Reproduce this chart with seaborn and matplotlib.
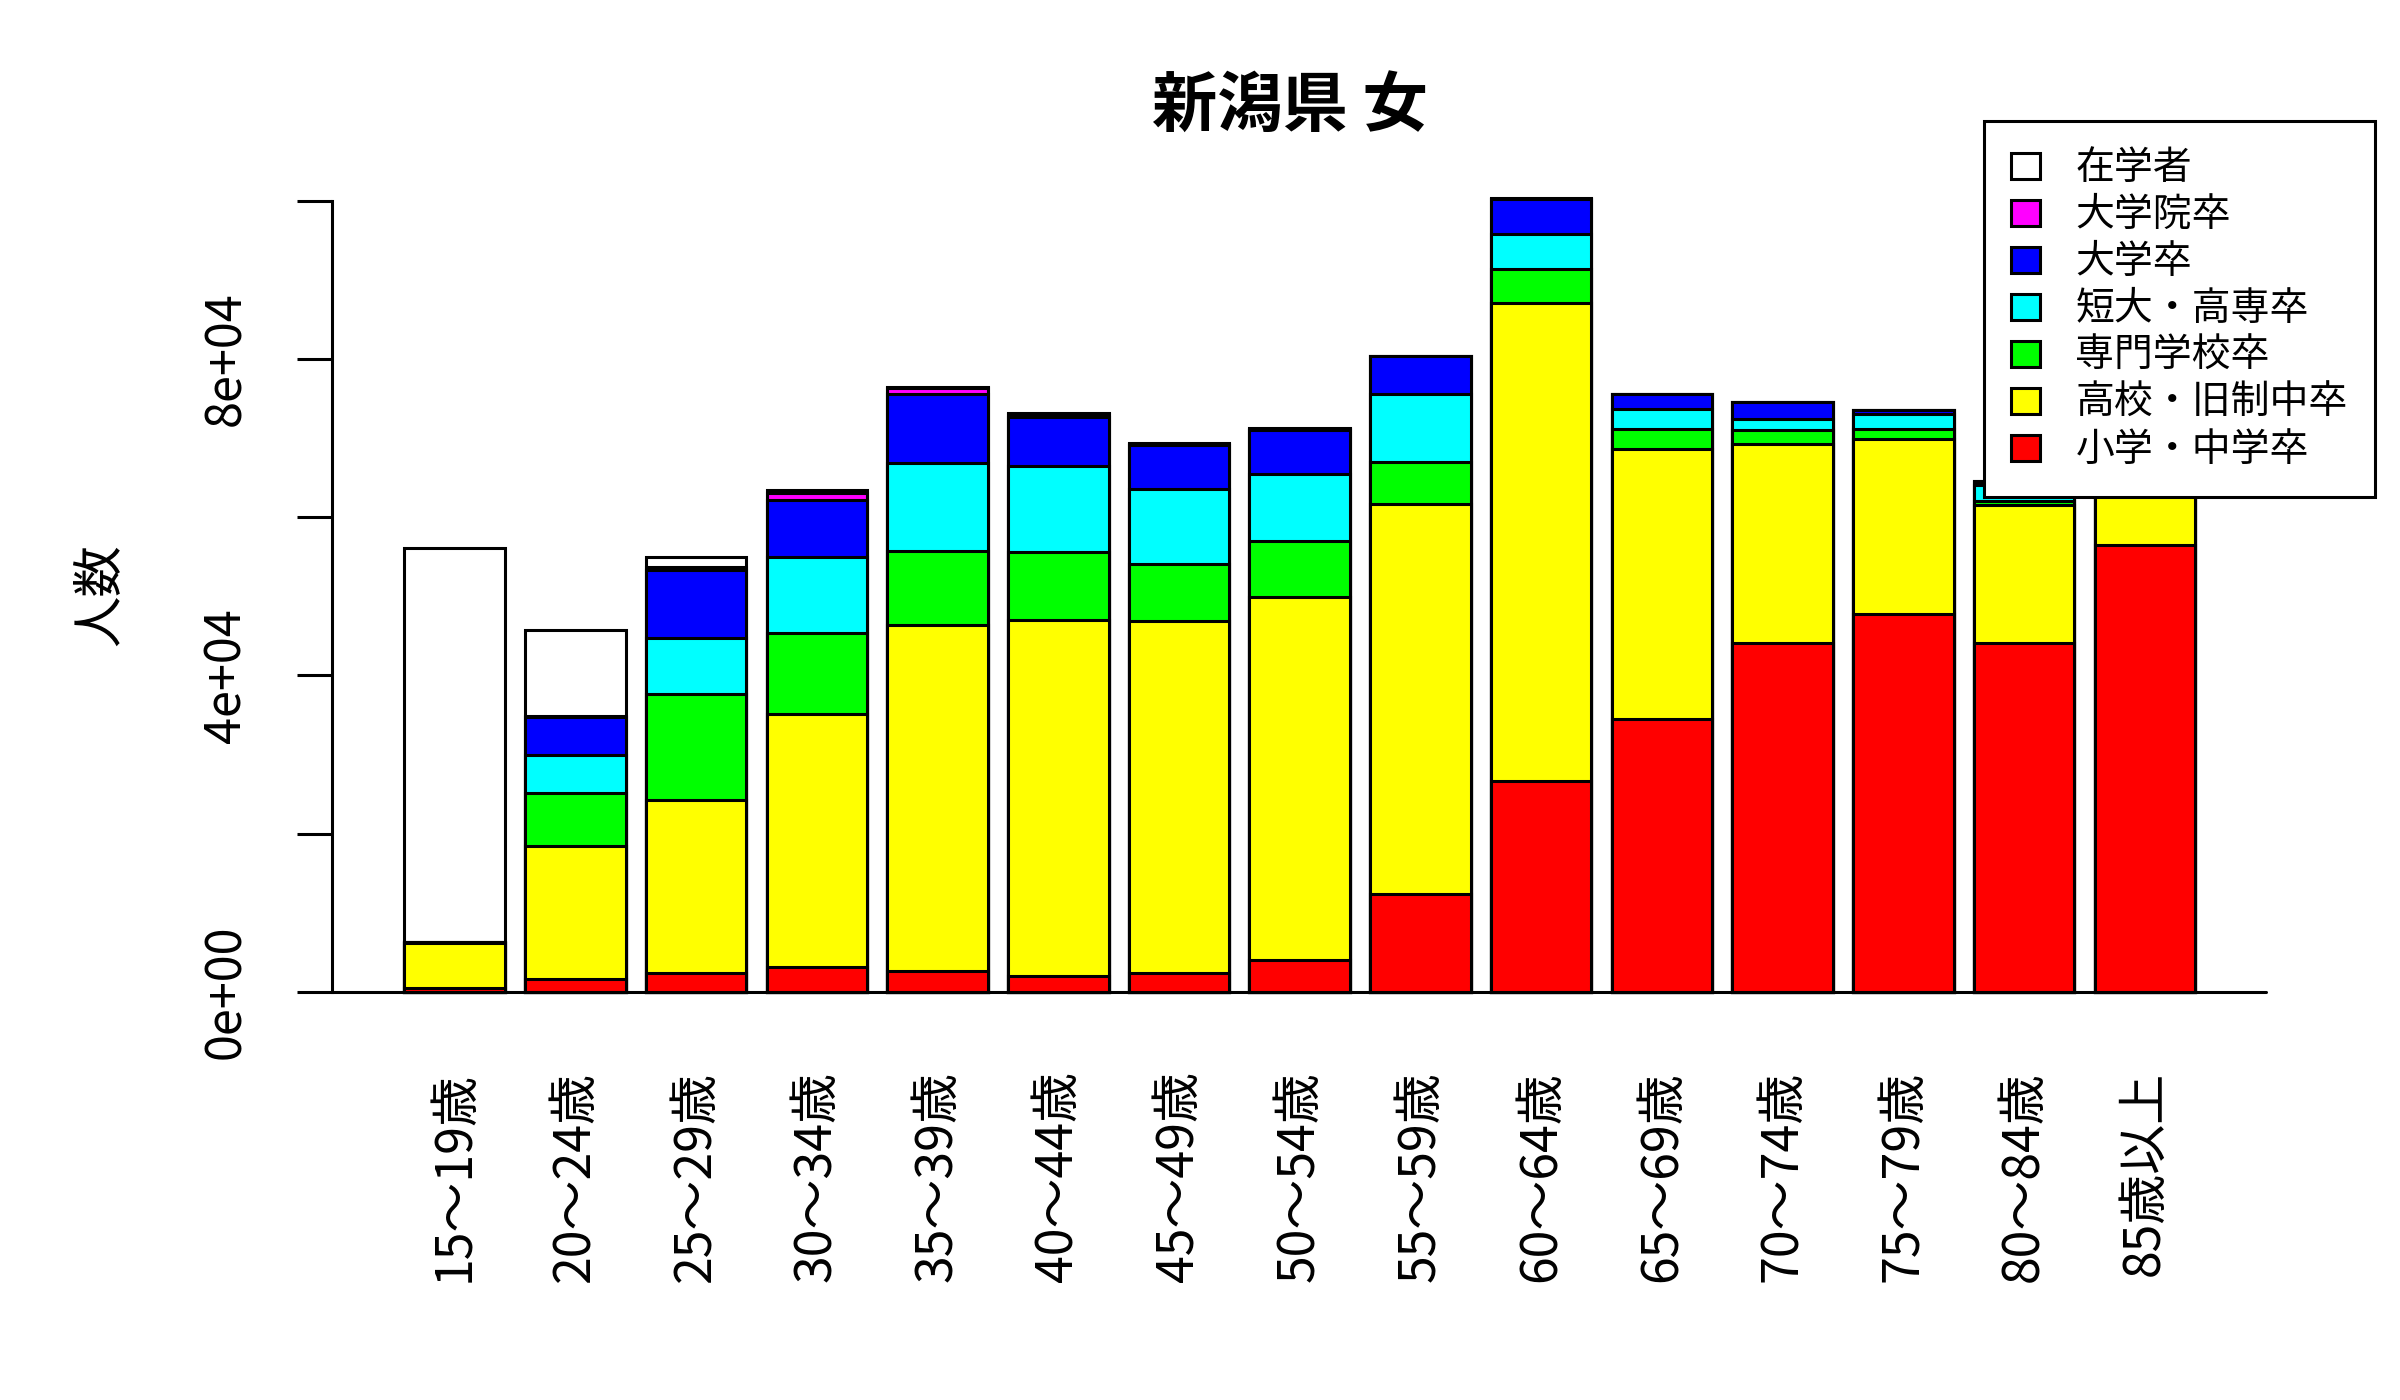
import numpy as np
import pandas as pd
import matplotlib
matplotlib.use("Agg")
import matplotlib.pyplot as plt
import seaborn as sns
from matplotlib.patches import Patch

# ---------------- data ----------------
ages = ["15～19歳", "20～24歳", "25～29歳", "30～34歳", "35～39歳", "40～44歳",
        "45～49歳", "50～54歳", "55～59歳", "60～64歳", "65～69歳", "70～74歳",
        "75～79歳", "80～84歳", "85歳以上"]

series_names = ["小学・中学卒", "高校・旧制中卒", "専門学校卒", "短大・高専卒",
                "大学卒", "大学院卒", "在学者"]

elem_junior = [500, 1600, 2400, 3100, 2600, 2000, 2400, 4000, 12400, 26600,
               34500, 44100, 47700, 44100, 56500]
high_school = [5700, 16900, 21800, 32000, 43800, 45000, 44500, 45900, 49200, 60400,
               34100, 25100, 22200, 17400, 9500]
vocational = [50, 6600, 13400, 10200, 9300, 8600, 7200, 7100, 5400, 4300,
              2500, 1800, 1200, 600, 400]
junior_college = [20, 4800, 7100, 9600, 11200, 10900, 9500, 8500, 8600, 4500,
                  2500, 1400, 1900, 1900, 700]
university = [10, 4800, 8600, 7300, 8700, 6200, 5500, 5500, 4700, 4400,
              1900, 2100, 500, 500, 300]
graduate = [0, 200, 400, 900, 700, 300, 200, 150, 100, 50, 30, 20, 10, 10, 5]
enrolled = [49800, 10900, 1200, 300, 200, 100, 100, 50, 20, 10, 5, 5, 5, 5, 5]

colors = ["#FF0000", "#FFFF00", "#00FF00", "#00FFFF", "#0000FF", "#FF00FF", "#FFFFFF"]

y_ticks = [0, 20000, 40000, 60000, 80000, 100000]
y_ticklabels = ["0e+00", "", "4e+04", "", "8e+04", ""]

title = "新潟県 女"
y_label = "人数"

# ---------------- plot ----------------
sns.set_style("white")
plt.rcParams["font.family"] = ["Noto Sans CJK JP", "DejaVu Sans"]
plt.rcParams["text.color"] = "black"
plt.rcParams["axes.labelcolor"] = "black"
plt.rcParams["xtick.color"] = "black"
plt.rcParams["ytick.color"] = "black"

fig = plt.figure(figsize=(24, 14), dpi=100)
ax = fig.add_axes([0.1383, 0.2688, 0.8149, 0.6117])

layers = [elem_junior, high_school, vocational, junior_college, university, graduate, enrolled]
cum = np.cumsum(np.array(layers, dtype=float), axis=0)

LW = 2.2
for k in reversed(range(len(layers))):
    df = pd.DataFrame({"age": ages, "value": cum[k]})
    sns.barplot(data=df, x="age", y="value", order=ages, color=colors[k],
                saturation=1, width=1 / 1.2, edgecolor="black", linewidth=LW,
                errorbar=None, ax=ax)

# R-like coordinates: bar i centre at 0.7 + 1.2 i ; category units u = i
def r2u(xr):
    return (xr - 0.7) / 1.2

ax.set_xlim(r2u(-0.52), r2u(18.92))
ax.set_ylim(-4000, 104200)

for s in ["top", "right", "bottom"]:
    ax.spines[s].set_visible(False)
ax.spines["left"].set_linewidth(LW)
ax.spines["left"].set_color("black")
ax.spines["left"].set_bounds(0, 100000)

ax.plot([r2u(-0.52), r2u(18.7)], [0, 0], color="black", lw=LW, clip_on=False, zorder=5)

ax.set_yticks(y_ticks)
ax.set_yticklabels(y_ticklabels, rotation=90, va="center", color="black")
ax.tick_params(axis="y", length=25, width=LW, pad=33, labelsize=35, colors="black", left=True)

ax.set_xticks(range(len(ages)))
ax.set_xticklabels(ages, rotation=90, ha="center", va="top", color="black")
ax.tick_params(axis="x", length=0, pad=34, labelsize=36, colors="black")

ax.set_xlabel("")
ax.set_ylabel("")
ax.grid(False)

fig.text(100 / 2400, 1 - 595 / 1400, y_label, rotation=90, fontsize=37,
         ha="center", va="center", color="black")
fig.text(1290 / 2400, 1 - 107 / 1400, title, fontsize=47, fontweight="bold",
         ha="center", va="center", color="black")

handles = [Patch(facecolor=colors[k], edgecolor="black", linewidth=LW, label=series_names[k])
           for k in reversed(range(len(layers)))]
leg = ax.legend(handles=handles, loc="upper left",
                bbox_to_anchor=(1984 / 2400, 1 - 121 / 1400),
                bbox_transform=fig.transFigure, borderaxespad=0,
                fontsize=28, frameon=True, fancybox=False, shadow=False,
                edgecolor="black", framealpha=1, borderpad=0.7,
                handlelength=0.75, handleheight=0.65, handletextpad=0.9,
                labelspacing=0.18, labelcolor="black")
leg.get_frame().set_linewidth(LW)

fig.savefig("out.png", dpi=100, facecolor="white")
